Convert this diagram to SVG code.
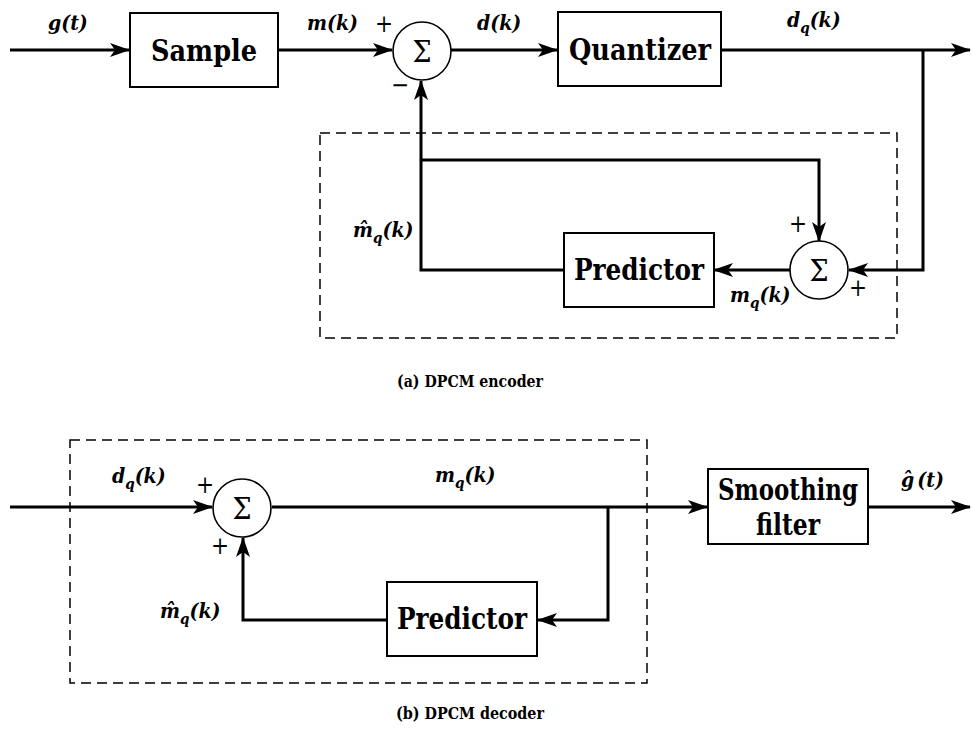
<svg xmlns="http://www.w3.org/2000/svg" width="972" height="747" viewBox="0 0 972 747">
<style>
text{font-family:"DejaVu Serif Condensed","DejaVu Serif","Liberation Serif",serif;font-stretch:condensed;fill:#000}
.box{fill:#fff;stroke:#000;stroke-width:2}
.sum{fill:#fff;stroke:#000;stroke-width:1.6}
.blk{font-weight:bold;font-size:30px;text-anchor:middle}
.sig{font-size:30px;text-anchor:middle}
.lbl{font-weight:bold;font-style:italic;font-size:21px}
.sub{font-size:15px}
.pm{font-size:24px;text-anchor:middle}
.cap{font-weight:bold;font-size:17px;text-anchor:middle}
.wire{fill:none;stroke:#000;stroke-width:3}
.dash{fill:none;stroke:#000;stroke-width:1.5;stroke-dasharray:10 6}
</style>
<defs>
<marker id="ah" markerUnits="userSpaceOnUse" markerWidth="20" markerHeight="14" viewBox="0 0 20 14" refX="19" refY="7" orient="auto">
<path d="M0,0 L20,7 L0,14 L5,7 z" fill="#000"/>
</marker>
</defs>

<rect class="dash" x="320" y="133" width="577" height="205"/>
<rect class="dash" x="70" y="440" width="577" height="243"/>

<g id="connectors">
<path class="wire" d="M10,50 H129" marker-end="url(#ah)"/>
<path class="wire" d="M278,50 H392" marker-end="url(#ah)"/>
<path class="wire" d="M451,50 H557" marker-end="url(#ah)"/>
<path class="wire" d="M721,50 H970" marker-end="url(#ah)"/>
<path class="wire" d="M923,50 V270 H849" marker-end="url(#ah)"/>
<path class="wire" d="M790,270 H714" marker-end="url(#ah)"/>
<path class="wire" d="M564,270 H421 V81" marker-end="url(#ah)"/>
<path class="wire" d="M421,160 H819 V241" marker-end="url(#ah)"/>
<path class="wire" d="M10,507 H212" marker-end="url(#ah)"/>
<path class="wire" d="M272,507 H707" marker-end="url(#ah)"/>
<path class="wire" d="M608,507 V620 H538" marker-end="url(#ah)"/>
<path class="wire" d="M387,620 H243 V538" marker-end="url(#ah)"/>
<path class="wire" d="M868,507 H970" marker-end="url(#ah)"/>
</g>

<g id="sample">
<rect class="box" x="130" y="13" width="148" height="74"/>
<text class="blk" x="204" y="61" textLength="106" lengthAdjust="spacingAndGlyphs">Sample</text>
</g>
<g id="sum1">
<circle class="sum" cx="422" cy="51" r="29"/>
<text class="sig" x="422" y="62">Σ</text>
<text class="pm" x="384" y="32">+</text>
<text class="pm" x="400" y="93">−</text>
</g>
<g id="quantizer">
<rect class="box" x="558" y="12" width="163" height="74"/>
<text class="blk" x="640" y="60" textLength="142" lengthAdjust="spacingAndGlyphs">Quantizer</text>
</g>
<g id="predictor1">
<rect class="box" x="564" y="233" width="150" height="74"/>
<text class="blk" x="639" y="280" textLength="130" lengthAdjust="spacingAndGlyphs">Predictor</text>
</g>
<g id="sum2">
<circle class="sum" cx="819" cy="270" r="29"/>
<text class="sig" x="819" y="281">Σ</text>
<text class="pm" x="798" y="232">+</text>
<text class="pm" x="858" y="296">+</text>
</g>
<g id="sum3">
<circle class="sum" cx="242" cy="508" r="29"/>
<text class="sig" x="242" y="519">Σ</text>
<text class="pm" x="205" y="493">+</text>
<text class="pm" x="220" y="554">+</text>
</g>
<g id="predictor2">
<rect class="box" x="387" y="582" width="150" height="74"/>
<text class="blk" x="462" y="629" textLength="130" lengthAdjust="spacingAndGlyphs">Predictor</text>
</g>
<g id="smoothing">
<rect class="box" x="708" y="469" width="160" height="75"/>
<text class="blk" x="788" y="500" textLength="140" lengthAdjust="spacingAndGlyphs">Smoothing</text>
<text class="blk" x="788" y="535" textLength="64" lengthAdjust="spacingAndGlyphs">filter</text>
</g>

<g id="labels">
<text class="lbl" x="48" y="30">g(t)</text>
<text class="lbl" x="307" y="30">m(k)</text>
<text class="lbl" x="477" y="30">d(k)</text>
<text class="lbl" x="787" y="27">d<tspan class="sub" dy="6">q</tspan><tspan dy="-6">(k)</tspan></text>
<text class="lbl" x="353" y="237">m̂<tspan class="sub" dy="6">q</tspan><tspan dy="-6">(k)</tspan></text>
<text class="lbl" x="730" y="302">m<tspan class="sub" dy="6">q</tspan><tspan dy="-6">(k)</tspan></text>
<text class="lbl" x="112" y="483">d<tspan class="sub" dy="6">q</tspan><tspan dy="-6">(k)</tspan></text>
<text class="lbl" x="435" y="482">m<tspan class="sub" dy="6">q</tspan><tspan dy="-6">(k)</tspan></text>
<text class="lbl" x="160" y="618">m̂<tspan class="sub" dy="6">q</tspan><tspan dy="-6">(k)</tspan></text>
<text class="lbl" x="901" y="487">ĝ<tspan dx="3">(t)</tspan></text>
</g>

<text class="cap" x="470" y="387" textLength="146" lengthAdjust="spacingAndGlyphs">(a) DPCM encoder</text>
<text class="cap" x="470" y="719" textLength="148" lengthAdjust="spacingAndGlyphs">(b) DPCM decoder</text>
</svg>
